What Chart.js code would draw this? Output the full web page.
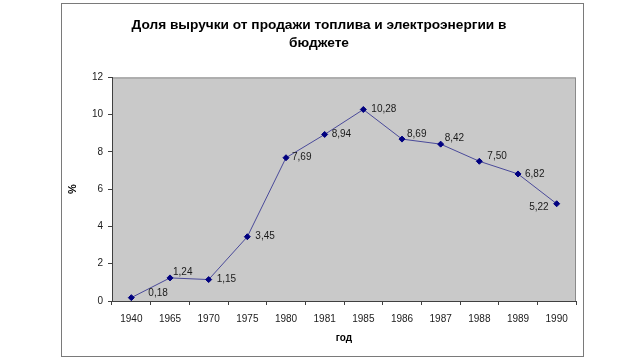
<!DOCTYPE html>
<html>
<head>
<meta charset="utf-8">
<script src="https://cdn.jsdelivr.net/npm/chart.js@4/dist/chart.umd.min.js"></script>
<style>
    body { margin: 0; background: #fff; }
    #box {
        position: absolute; left: 61px; top: 3px;
        width: 521px; height: 352px;
        border: 1px solid #7a7a7a;
    }
</style>
</head>
<body>
<div id="box"><canvas id="chart" width="521" height="352"></canvas></div>
<script>
const years = ["1940", "1965", "1970", "1975", "1980", "1981", "1985", "1986", "1987", "1988", "1989", "1990"];
const share = [0.18, 1.24, 1.15, 3.45, 7.69, 8.94, 10.28, 8.69, 8.42, 7.50, 6.82, 5.22];
const titleLines = ["Доля выручки от продажи топлива и электроэнергии в", "бюджете"];

// label offsets relative to each point: [dx, dy, align]
const labelPos = [
    [17, -4, "left"], [3, -6, "left"], [8, 0, "left"], [8, 0, "left"],
    [6, 0, "left"], [7, 0, "left"], [8, 0, "left"], [5, -5, "left"],
    [4, -6, "left"], [8, -5, "left"], [7, 0, "left"], [-8, 3, "right"]
];

const FONT = "'Liberation Sans', Arial, sans-serif";

// gray plot area + frame
const plotBg = {
    id: "plotBg",
    beforeDraw(chart) {
        const { ctx, chartArea: a } = chart;
        ctx.save();
        ctx.fillStyle = "#c9c9c9";
        ctx.fillRect(a.left, a.top, a.right - a.left, a.bottom - a.top);
        ctx.strokeStyle = "#8a8a8a";
        ctx.lineWidth = 1;
        ctx.strokeRect(a.left + 0.5, a.top + 0.5, a.right - a.left - 1, a.bottom - a.top);
        ctx.restore();
    }
};

// value labels next to points
const valueLabels = {
    id: "valueLabels",
    afterDatasetsDraw(chart) {
        const { ctx } = chart;
        const meta = chart.getDatasetMeta(0);
        ctx.save();
        ctx.font = "10px " + FONT;
        ctx.fillStyle = "#1a1a1a";
        ctx.textBaseline = "middle";
        meta.data.forEach((pt, i) => {
            const p = labelPos[i];
            ctx.textAlign = p[2];
            ctx.fillText(share[i].toFixed(2).replace(".", ","), pt.x + p[0], pt.y + p[1]);
        });
        ctx.restore();
    }
};

new Chart(document.getElementById("chart"), {
    type: "line",
    data: {
        labels: years,
        datasets: [{
            data: share,
            borderColor: "#4a4a9a",
            borderWidth: 1,
            pointStyle: "rectRot",
            pointRadius: 3,
            pointBackgroundColor: "#000080",
            pointBorderColor: "#000080",
            tension: 0
        }]
    },
    options: {
        responsive: false,
        animation: false,
        layout: { padding: { left: 0, right: 7, top: 0, bottom: 0 } },
        plugins: {
            legend: { display: false },
            tooltip: { enabled: false },
            title: {
                display: true,
                text: titleLines,
                color: "#000",
                font: { family: FONT, size: 13.7, weight: "bold", lineHeight: 1.33 },
                padding: { top: 12, bottom: 25 }
            }
        },
        scales: {
            x: {
                offset: true,
                grid: { offset: true, drawOnChartArea: false, tickLength: 4, tickColor: "#404040" },
                border: { color: "#404040" },
                ticks: { color: "#1a1a1a", font: { family: FONT, size: 10 }, padding: 8, maxRotation: 0, autoSkip: false },
                title: { display: true, text: "год", color: "#000", font: { family: FONT, size: 10, weight: "bold" }, padding: { top: 7, bottom: 12 } },
                afterFit(s) { s.height = 55; }
            },
            y: {
                min: 0, max: 12,
                grid: { drawOnChartArea: false, tickLength: 4, tickColor: "#404040" },
                border: { color: "#404040" },
                ticks: { stepSize: 2, color: "#1a1a1a", font: { family: FONT, size: 10 }, padding: 5 },
                title: { display: true, text: "%", color: "#000", font: { family: FONT, size: 11, weight: "bold" } },
                afterFit(s) { s.width = 50; }
            }
        }
    },
    plugins: [plotBg, valueLabels]
});
</script>
</body>
</html>
